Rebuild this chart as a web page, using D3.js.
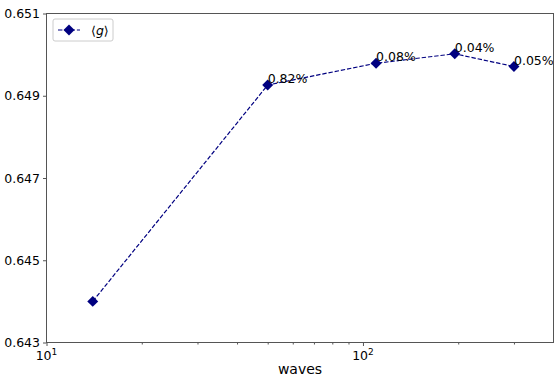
<!DOCTYPE html>
<html>
<head>
<meta charset="utf-8">
<script src="https://cdn.jsdelivr.net/npm/d3@7"></script>
<style>
  body { margin: 0; background: #fff; }
  text { font-family: "DejaVu Sans", sans-serif; }
</style>
</head>
<body>
<div id="chart"></div>
<script>
// données
const waves = [14, 50, 110, 195, 300];
const gMean = [0.64400, 0.64926, 0.64979, 0.65002, 0.64971];
const pctLabels = ["", "0.82%", "0.08%", "0.04%", "0.05%"];
const yTicks = [0.643, 0.645, 0.647, 0.649, 0.651];
const xMajor = [10, 100];
const xMinor = [20, 30, 40, 50, 60, 70, 80, 90, 200, 300];

const width = 555, height = 381;
const margin = { top: 13.5, right: 1.5, bottom: 38.5, left: 46.5 };
const navy = '#000080';

const svg = d3.select('#chart').append('svg')
    .attr('width', width)
    .attr('height', height);

const x = d3.scaleLog().domain([10, 400]).range([margin.left, width - margin.right]);
const y = d3.scaleLinear().domain([0.643, 0.651]).range([height - margin.bottom, margin.top]);

// ligne pointillée
const line = d3.line()
    .x((d, i) => x(waves[i]))
    .y(d => y(d));

svg.append('path')
    .datum(gMean)
    .attr('fill', 'none')
    .attr('stroke', navy)
    .attr('stroke-width', 1.2)
    .attr('stroke-dasharray', '4.4,1.9')
    .attr('d', line);

// marqueurs losange
const diamond = d3.symbol().type(d3.symbolSquare).size(60);
svg.append('g')
    .selectAll('path')
    .data(gMean)
    .enter()
    .append('path')
    .attr('d', diamond)
    .attr('fill', navy)
    .attr('transform', (d, i) => `translate(${x(waves[i])},${y(d)}) rotate(45)`);

// annotations
svg.append('g')
    .selectAll('text')
    .data(gMean)
    .enter()
    .append('text')
    .attr('x', (d, i) => x(waves[i]))
    .attr('y', d => y(d) - 2)
    .attr('font-size', '12.5px')
    .attr('fill', '#000')
    .text((d, i) => pctLabels[i]);

// cadre
svg.append('rect')
    .attr('x', margin.left)
    .attr('y', margin.top)
    .attr('width', width - margin.left - margin.right)
    .attr('height', height - margin.top - margin.bottom)
    .attr('fill', 'none')
    .attr('stroke', '#555')
    .attr('stroke-width', 1);

// axe x
const xAxis = svg.append('g')
    .attr('transform', `translate(0,${height - margin.bottom})`)
    .call(d3.axisBottom(x).tickValues(xMajor).tickSize(3.5).tickFormat(''));
xAxis.select('.domain').remove();
xAxis.selectAll('line').attr('stroke', '#555');

svg.append('g')
    .attr('transform', `translate(0,${height - margin.bottom})`)
    .call(d3.axisBottom(x).tickValues(xMinor).tickSize(2).tickFormat(''))
    .call(g => g.select('.domain').remove())
    .call(g => g.selectAll('line').attr('stroke', '#555'));

const xLab = svg.append('g')
    .selectAll('text')
    .data(xMajor)
    .enter()
    .append('text')
    .attr('x', d => x(d))
    .attr('y', height - margin.bottom + 17)
    .attr('text-anchor', 'middle')
    .attr('font-size', '12.5px');
xLab.append('tspan').text('10');
xLab.append('tspan')
    .attr('font-size', '9px')
    .attr('dy', -5)
    .text(d => Math.round(Math.log10(d)));

svg.append('text')
    .attr('x', (margin.left + width - margin.right) / 2)
    .attr('y', height - 7)
    .attr('text-anchor', 'middle')
    .attr('font-size', '14px')
    .text('waves');

// axe y
const yAxis = svg.append('g')
    .attr('transform', `translate(${margin.left},0)`)
    .call(d3.axisLeft(y).tickValues(yTicks).tickSize(3.5).tickPadding(3).tickFormat(d3.format('.3f')));
yAxis.select('.domain').remove();
yAxis.selectAll('line').attr('stroke', '#555');
yAxis.selectAll('text')
    .attr('font-size', '12.5px')
    .attr('font-family', '"DejaVu Sans", sans-serif')
    .attr('fill', '#000');

// légende
const leg = svg.append('g').attr('transform', 'translate(53,19)');
leg.append('rect')
    .attr('width', 60)
    .attr('height', 22)
    .attr('rx', 2)
    .attr('fill', '#fff')
    .attr('stroke', '#ccc');
leg.append('line')
    .attr('x1', 5).attr('x2', 27)
    .attr('y1', 11).attr('y2', 11)
    .attr('stroke', navy)
    .attr('stroke-width', 1.2)
    .attr('stroke-dasharray', '4.4,1.9');
leg.append('path')
    .attr('d', diamond)
    .attr('fill', navy)
    .attr('transform', 'translate(16,11) rotate(45)');
const legText = leg.append('text')
    .attr('x', 38)
    .attr('y', 16)
    .attr('font-size', '12.5px');
legText.append('tspan').text('⟨');
legText.append('tspan').attr('font-style', 'italic').text('g');
legText.append('tspan').text('⟩');
</script>
</body>
</html>
